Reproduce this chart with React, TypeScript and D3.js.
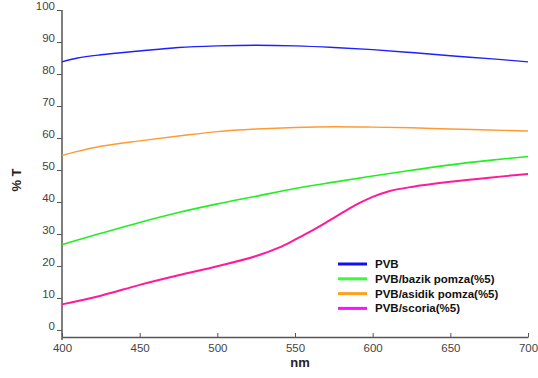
import React, { useRef, useEffect } from "react";
import * as d3 from "d3";

// wavelengths (nm) shared by three series
const wavelengths = [400, 410, 425, 450, 475, 500, 525, 550, 575, 600, 625, 650, 675, 700];
const pvb = [83.8, 85.0, 86.0, 87.2, 88.3, 88.8, 89.0, 88.8, 88.3, 87.6, 86.7, 85.7, 84.8, 83.8];
const bazik = [26.6, 28.1, 30.2, 33.6, 36.7, 39.4, 41.8, 44.2, 46.2, 48.1, 49.9, 51.6, 53.0, 54.2];
const asidik = [54.5, 55.8, 57.4, 59.1, 60.6, 62.0, 62.8, 63.3, 63.5, 63.4, 63.2, 62.8, 62.5, 62.2];

// scoria curve has a steep part, so it gets more points
const scoriaNm = [400, 425, 450, 475, 500, 525, 540, 550, 560, 570, 580, 590, 600, 610, 625, 650, 675, 700];
const scoria = [8.0, 10.7, 14.1, 17.1, 19.9, 23.1, 25.8, 28.2, 30.8, 33.6, 36.5, 39.3, 41.6, 43.3, 44.7, 46.3, 47.6, 48.75];

const yTicks = [0, 10, 20, 30, 40, 50, 60, 70, 80, 90, 100];
const xTicks = [400, 450, 500, 550, 600, 650, 700];

const series = [
  { name: "PVB", x: wavelengths, y: pvb, color: "#1f1fff", legend: "#1010f0", width: 1.4 },
  { name: "PVB/bazik pomza(%5)", x: wavelengths, y: bazik, color: "#22ee22", legend: "#33ff33", width: 1.6 },
  { name: "PVB/asidik pomza(%5)", x: wavelengths, y: asidik, color: "#ff9a33", legend: "#ffa020", width: 1.4 },
  { name: "PVB/scoria(%5)", x: scoriaNm, y: scoria, color: "#ff1a9a", legend: "#ff10ff", width: 2 },
];

const App: React.FC = () => {
  const ref = useRef<SVGSVGElement | null>(null);

  useEffect(() => {
    if (!ref.current) return;
    const svg = d3.select(ref.current);
    svg.selectAll("*").remove();

    const x = d3.scaleLinear().domain([400, 700]).range([62, 528]);
    const y = d3.scaleLinear().domain([-2.2, 100]).range([337, 10]);
    const axisColor = "#555";
    const font = "'Liberation Sans', Arial, sans-serif";

    // y axis
    const gy = svg.append("g").attr("transform", `translate(62,0)`)
      .call(d3.axisLeft(y).tickValues(yTicks).tickSize(5).tickPadding(2).tickFormat(d3.format("d")));
    gy.select(".domain").attr("stroke", axisColor).attr("stroke-width", 1.5).attr("d", "M0,10V340");
    gy.selectAll(".tick line").attr("stroke", axisColor);
    gy.selectAll(".tick text").attr("fill", "#444").style("font-size", "11.5px").style("font-family", font)
      .attr("dy", "-0.05em");

    // x axis
    const gx = svg.append("g").attr("transform", `translate(0,337)`)
      .call(d3.axisBottom(x).tickValues(xTicks).tickSizeInner(-4).tickSizeOuter(0).tickPadding(7));
    gx.select(".domain").attr("stroke", axisColor).attr("stroke-width", 1.5);
    gx.selectAll(".tick line").attr("stroke", axisColor);
    gx.selectAll(".tick text").attr("fill", "#444").style("font-size", "11.5px").style("font-family", font);

    // axis titles
    svg.append("text").attr("x", 300).attr("y", 367).attr("text-anchor", "middle")
      .style("font-family", font).style("font-weight", "bold").style("font-size", "13px").attr("fill", "#222").text("nm");
    svg.append("text").attr("transform", "translate(21,180) rotate(-90)").attr("text-anchor", "middle")
      .style("font-family", font).style("font-weight", "bold").style("font-size", "13px").attr("fill", "#222").text("% T");

    const line = d3.line<[number, number]>()
      .x((d) => x(d[0]))
      .y((d) => y(d[1]))
      .curve(d3.curveCatmullRom.alpha(0.5));

    series.forEach((s) => {
      const pts = s.x.map((v, i) => [v, s.y[i]] as [number, number]);
      svg.append("path").datum(pts)
        .attr("fill", "none")
        .attr("stroke", s.color)
        .attr("stroke-width", s.width)
        .attr("d", line);
    });

    // legend
    const lg = svg.append("g");
    series.forEach((s, i) => {
      const ly = 264 + i * 14.8;
      lg.append("line").attr("x1", 338).attr("x2", 367).attr("y1", ly).attr("y2", ly)
        .attr("stroke", s.legend).attr("stroke-width", 3);
      lg.append("text").attr("x", 375).attr("y", ly).attr("dy", "0.35em")
        .style("font-family", font).style("font-weight", "bold").style("font-size", "11.5px").attr("fill", "#111")
        .text(s.name);
    });
  }, []);

  return (
    <svg ref={ref} width={538} height={378} style={{ position: "absolute", left: 0, top: 0, background: "#fff" }} />
  );
};

export default App;
